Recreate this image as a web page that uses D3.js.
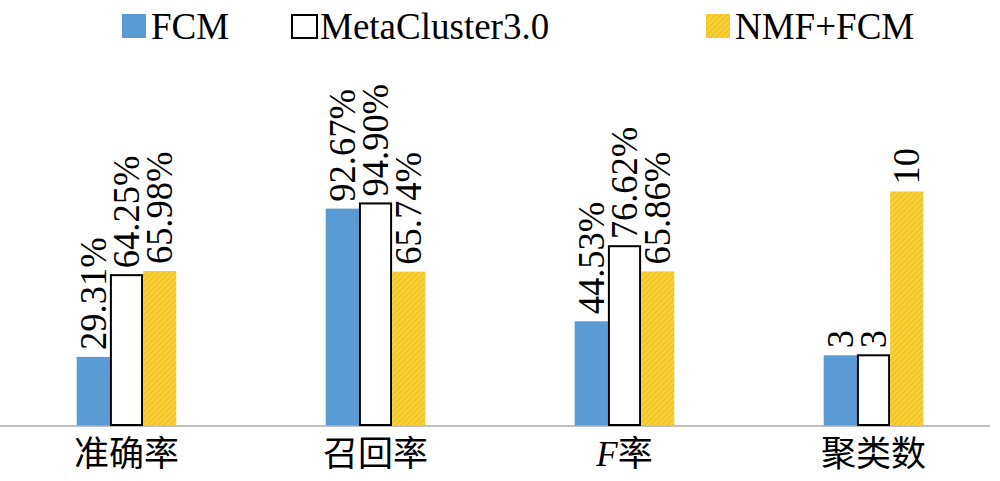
<!DOCTYPE html>
<html><head><meta charset="utf-8">
<script src="https://cdn.jsdelivr.net/npm/d3@7"></script>
<style>
html,body{margin:0;padding:0;background:#fff;}
svg{display:block;}
.serif{font-family:"Liberation Serif","Times New Roman",serif;}
</style></head>
<body>
<svg id="chart" width="1000" height="481"></svg>
<script>
const categories = ["准确率", "召回率", "F率", "聚类数"];
const seriesNames = ["FCM", "MetaCluster3.0", "NMF+FCM"];
const fcmValues = [29.31, 92.67, 44.53, 3];
const metaValues = [64.25, 94.90, 76.62, 3];
const nmfValues = [65.98, 65.74, 65.86, 10];
const isCount = [false, false, false, true];
const countFactor = 10; // counts are drawn on the same axis scaled x10

const allSeries = [fcmValues, metaValues, nmfValues];

const svg = d3.select("#chart");
const baseY = 425.5;

const x0 = d3.scaleBand().domain(categories).range([2, 998]).paddingInner(0.6).paddingOuter(0.3);
const x1 = d3.scaleBand().domain(seriesNames).range([0, x0.bandwidth()]).padding(0);
const y = d3.scaleLinear().domain([0, 100]).range([baseY, 191.5]);

const defs = svg.append("defs");
const pat = defs.append("pattern").attr("id", "hatch").attr("patternUnits", "userSpaceOnUse")
  .attr("width", 4).attr("height", 4).attr("patternTransform", "rotate(45)");
pat.append("rect").attr("width", 4).attr("height", 4).attr("fill", "#F8CF35");
pat.append("line").attr("x1", 0).attr("y1", 0).attr("x2", 0).attr("y2", 4)
  .attr("stroke", "#E4B41A").attr("stroke-width", 1.4);

const fills = ["#5B9BD5", "#FFFFFF", "url(#hatch)"];
const strokes = ["none", "#000", "none"];

const rows = [];
categories.forEach((c, i) => {
  seriesNames.forEach((s, j) => {
    const v = allSeries[j][i];
    rows.push({cat: c, ser: s, j, v, plot: isCount[i] ? v * countFactor : v,
      label: isCount[i] ? String(v) : v.toFixed(2) + "%"});
  });
});

svg.append("line").attr("x1", 0).attr("x2", 990).attr("y1", baseY + 0.5).attr("y2", baseY + 0.5)
  .attr("stroke", "#BFBFBF").attr("stroke-width", 2);

const g = svg.append("g");
g.selectAll("rect.bar").data(rows).enter().append("rect")
  .attr("class", "bar")
  .attr("x", d => x0(d.cat) + x1(d.ser) + (d.j === 1 ? 1 : 0))
  .attr("width", d => x1.bandwidth() - (d.j === 1 ? 2 : 0))
  .attr("y", d => y(d.plot))
  .attr("height", d => y(0) - y(d.plot) - (d.j === 1 ? 0.5 : 0))
  .attr("fill", d => fills[d.j])
  .attr("stroke", d => strokes[d.j])
  .attr("stroke-width", 2);

g.selectAll("text.val").data(rows).enter().append("text")
  .attr("class", "val")
  .attr("transform", d => {
    const cx = x0(d.cat) + x1(d.ser) + x1.bandwidth() / 2;
    return `translate(${cx + 12.5},${y(d.plot) - 7}) rotate(-90) scale(0.96,1)`;
  })
  .attr("text-anchor", "start")
  .attr("style", "font-family:'Liberation Serif','Times New Roman',serif;font-size:38px")
  .attr("fill", "#000")
  .text(d => d.label);

const catG = svg.append("g");
categories.forEach(c => {
  const t = catG.append("text")
    .attr("x", x0(c) + x0.bandwidth() / 2)
    .attr("y", 466)
    .attr("text-anchor", "middle")
    .style("font-size", "35px")
    .style("font-family", "'Noto Sans CJK SC', sans-serif")
    .attr("fill", "#000");
  if (c.startsWith("F")) {
    t.append("tspan").attr("class", "serif").style("font-style", "italic").text("F");
    t.append("tspan").text(c.slice(1));
  } else {
    t.text(c);
  }
});

const legendX = [122, 291, 706];
const leg = svg.append("g");
seriesNames.forEach((s, j) => {
  leg.append("rect")
    .attr("x", legendX[j] + (j === 1 ? 1 : 0)).attr("y", 14 + (j === 1 ? 1 : 0))
    .attr("width", j === 1 ? 25 : 24).attr("height", j === 1 ? 23 : 24)
    .attr("fill", fills[j]).attr("stroke", strokes[j]).attr("stroke-width", 2);
  leg.append("text")
    .attr("class", "serif")
    .attr("x", legendX[j] + 29).attr("y", 39)
    .style("font-size", "37px")
    .attr("fill", "#000")
    .text(s);
});
</script>
</body></html>
